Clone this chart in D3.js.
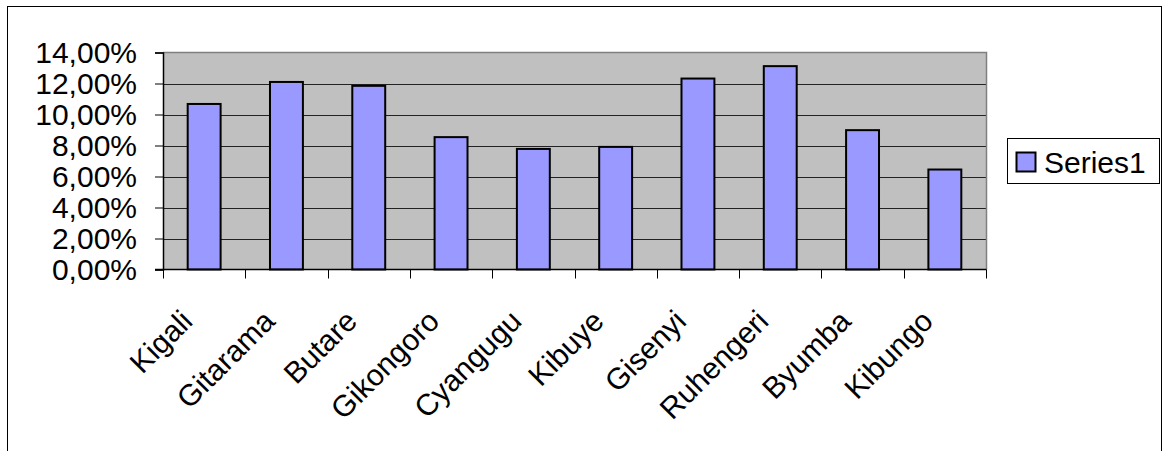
<!DOCTYPE html>
<html>
<head>
<meta charset="utf-8">
<script src="https://cdn.jsdelivr.net/npm/d3@7"></script>
<style>
  html, body { margin: 0; padding: 0; background: #fff; }
  svg { display: block; font-family: "Liberation Sans", Arial, sans-serif; }
</style>
</head>
<body>
<svg id="chart" width="1168" height="451"></svg>
<script>
// Province shares
const categories = ["Kigali", "Gitarama", "Butare", "Gikongoro", "Cyangugu",
                    "Kibuye", "Gisenyi", "Ruhengeri", "Byumba", "Kibungo"];
const series1 = [0.1068, 0.1210, 0.1185, 0.0854, 0.0778,
                 0.0791, 0.1232, 0.1312, 0.0899, 0.0645];
const yTicks = [0, 0.02, 0.04, 0.06, 0.08, 0.10, 0.12, 0.14];
const seriesName = "Series1";

const svg = d3.select("#chart");
const FONT = 30;

// plot area
const plot = { left: 163, right: 986, top: 52.5, bottom: 269.5 };

const locale = d3.formatLocale({ decimal: ",", thousands: ".", grouping: [3], currency: ["", " €"] });
const pct = locale.format(".2%");

const x = d3.scaleBand().domain(categories).range([plot.left, plot.right]).paddingInner(0.6).paddingOuter(0.3);
const y = d3.scaleLinear().domain([0, 0.14]).range([plot.bottom, plot.top]);

// outer chart frame (continues below the visible area)
svg.append("rect")
  .attr("x", 7.5).attr("y", 6.5)
  .attr("width", 1154).attr("height", 480)
  .attr("fill", "#fff").attr("stroke", "#000").attr("stroke-width", 1);

// plot background
svg.append("rect")
  .attr("x", plot.left).attr("y", plot.top)
  .attr("width", plot.right - plot.left).attr("height", plot.bottom - plot.top)
  .attr("fill", "#c0c0c0");

// horizontal gridlines
svg.append("g").selectAll("line")
  .data(yTicks.filter(d => d > 0 && d < 0.14))
  .join("line")
  .attr("x1", plot.left).attr("x2", plot.right)
  .attr("y1", d => Math.round(y(d)) + 0.5).attr("y2", d => Math.round(y(d)) + 0.5)
  .attr("stroke", "#222").attr("stroke-width", 1);

// top and right borders of the plot area
svg.append("path")
  .attr("d", `M${plot.left},${plot.top} H${plot.right + 0.5} V${plot.bottom}`)
  .attr("fill", "none").attr("stroke", "#808080").attr("stroke-width", 1.5);

// bars
svg.append("g").selectAll("rect")
  .data(series1)
  .join("rect")
  .attr("x", (d, i) => x(categories[i]))
  .attr("y", d => y(d))
  .attr("width", x.bandwidth())
  .attr("height", d => plot.bottom - y(d))
  .attr("fill", "#9999ff")
  .attr("stroke", "#000").attr("stroke-width", 2);

// y axis
const yAxis = d3.axisLeft(y).tickValues(yTicks).tickFormat(pct).tickSize(8).tickPadding(18);
const gy = svg.append("g").attr("transform", `translate(${plot.left},0)`).call(yAxis);
gy.select(".domain").attr("stroke", "#000").attr("stroke-width", 1.5);
gy.selectAll(".tick line").attr("stroke", "#000");
gy.selectAll(".tick text")
  .attr("font-size", FONT).attr("fill", "#000")
  .attr("font-family", "'Liberation Sans', Arial, sans-serif");

// x axis line and tick marks at band boundaries
const step = x.step();
const edges = d3.range(categories.length + 1).map(i => plot.left + i * step);
svg.append("line")
  .attr("x1", plot.left - 8).attr("x2", plot.right + 0.5)
  .attr("y1", plot.bottom).attr("y2", plot.bottom)
  .attr("stroke", "#000").attr("stroke-width", 1.5);
svg.append("g").selectAll("line")
  .data(edges)
  .join("line")
  .attr("x1", d => Math.round(d) + 0.5).attr("x2", d => Math.round(d) + 0.5)
  .attr("y1", plot.bottom).attr("y2", plot.bottom + 9)
  .attr("stroke", "#000");

// rotated category labels
svg.append("g").selectAll("text")
  .data(categories)
  .join("text")
  .attr("transform", d => `translate(${x(d) + x.bandwidth() / 2 - 10},323) rotate(-45)`)
  .attr("text-anchor", "end")
  .attr("font-size", FONT)
  .attr("fill", "#000")
  .text(d => d);

// legend
const lg = svg.append("g");
lg.append("rect")
  .attr("x", 1007.5).attr("y", 138.5).attr("width", 152).attr("height", 45)
  .attr("fill", "#fff").attr("stroke", "#000").attr("stroke-width", 1);
lg.append("rect")
  .attr("x", 1016.5).attr("y", 152.5).attr("width", 19).attr("height", 19)
  .attr("fill", "#9999ff").attr("stroke", "#000").attr("stroke-width", 2);
lg.append("text")
  .attr("x", 1044).attr("y", 172.5)
  .attr("font-size", FONT).attr("fill", "#000")
  .text(seriesName);
</script>
</body>
</html>
